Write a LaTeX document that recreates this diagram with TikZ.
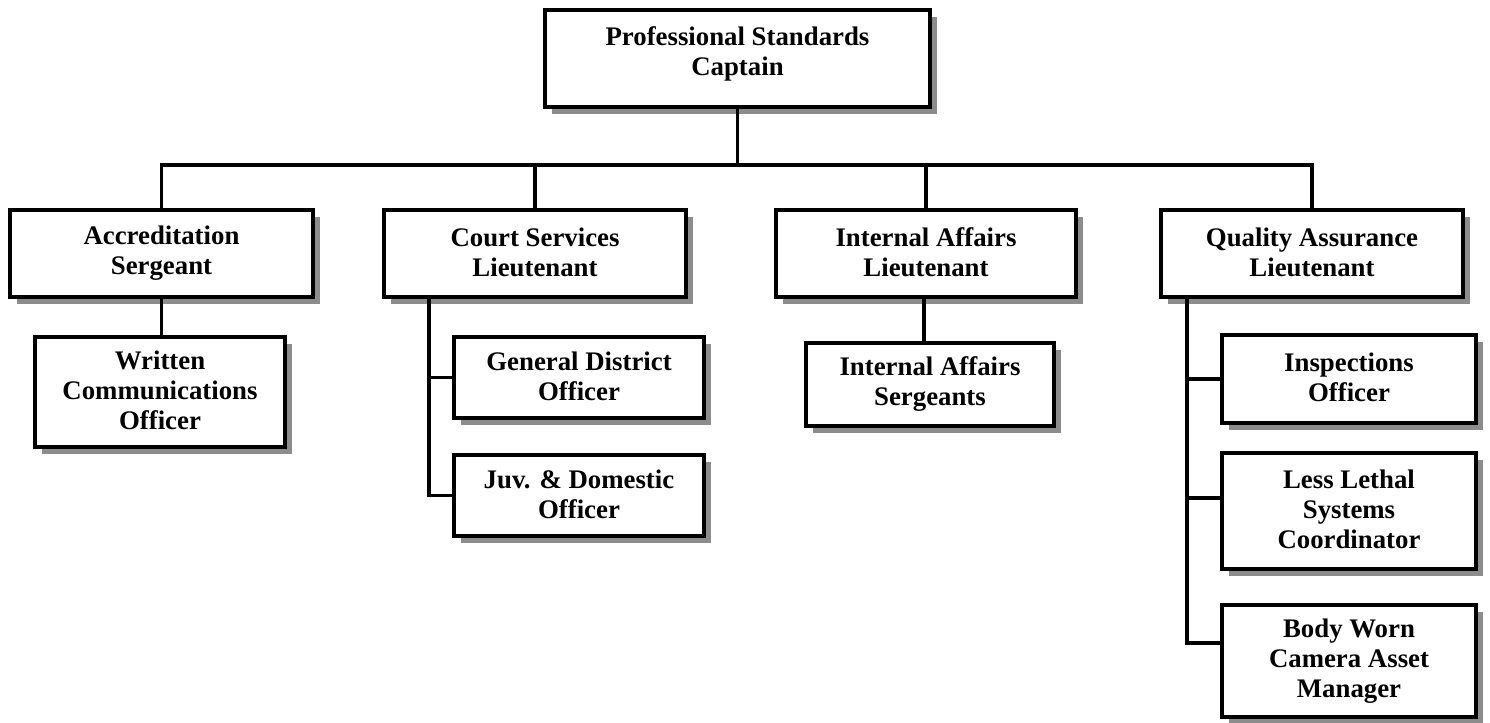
\documentclass[tikz,border=0pt]{standalone}
\usepackage{fontspec}
\setmainfont{Liberation Serif}
\usetikzlibrary{shadows}
\newcommand{\tophgt}{\rule{0pt}{10.8pt}}
\newcommand{\botdpt}{\rule[-1.6pt]{0pt}{1.6pt}}
\newcommand{\botdptbig}{\rule[-7.5pt]{0pt}{7.5pt}}
\begin{document}
\begin{tikzpicture}[x=0.5pt,y=-0.5pt,
  box/.style={draw=black, line width=2pt, fill=white, align=center, inner sep=2pt,
    font=\fontsize{13.4}{15}\selectfont\bfseries,
    execute at begin node=\tophgt, execute at end node=\botdpt,
    general shadow={fill=black!45, shadow xshift=3.5pt, shadow yshift=-3.5pt}},
  headbox/.style={box, execute at end node=\botdptbig},
  conn/.style={draw=black, line width=1.6pt}]
\useasboundingbox (0,0) rectangle (1490,723);
\node[headbox, minimum width=192.5pt, minimum height=48.5pt] (top) at (737.5,58.5) {Professional Standards\\Captain};
\node[box, minimum width=151.5pt, minimum height=43.5pt] (acc) at (161.5,253.5) {Accreditation\\Sergeant};
\node[box, minimum width=151pt, minimum height=43.5pt] (court) at (535,253.5) {Court Services\\Lieutenant};
\node[box, minimum width=150pt, minimum height=43.5pt] (ia) at (926,253.5) {Internal Affairs\\Lieutenant};
\node[box, minimum width=151pt, minimum height=43.5pt] (qa) at (1312,253.5) {Quality Assurance\\Lieutenant};
\node[box, minimum width=125pt, minimum height=55pt] (wc) at (160,392) {Written\\Communications\\Officer};
\node[box, minimum width=125pt, minimum height=40.5pt] (gd) at (579,377.5) {General District\\Officer};
\node[box, minimum width=125pt, minimum height=40.5pt] (juv) at (579,495.5) {Juv. \& Domestic\\Officer};
\node[box, minimum width=124pt, minimum height=41.5pt] (ias) at (930,384.5) {Internal Affairs\\Sergeants};
\node[box, minimum width=127pt, minimum height=44pt] (insp) at (1349,379) {Inspections\\Officer};
\node[box, minimum width=127pt, minimum height=58pt] (ll) at (1349,511) {Less Lethal\\Systems\\Coordinator};
\node[box, minimum width=127pt, minimum height=56pt] (bw) at (1349,661) {Body Worn\\Camera Asset\\Manager};
\coordinate (bus) at (0,165);
\coordinate (csp) at (429,0);
\coordinate (qsp) at (1187,0);
% top level
\draw[conn] (top.south) -- (top.south |- bus);
\draw[conn] (acc.north) -- (acc.north |- bus) -- (qa.north |- bus) -- (qa.north);
\draw[conn] (court.north) -- (court.north |- bus);
\draw[conn] (ia.north) -- (ia.north |- bus);
% second level
\draw[conn] (acc.south) -- (acc.south |- wc.north);
\draw[conn] (court.south -| csp) |- (gd.west);
\draw[conn] (court.south -| csp) |- (juv.west);
\draw[conn] (ia.south -| 924,0) -- (ias.north -| 924,0);
\draw[conn] (qa.south -| qsp) |- (insp.west);
\draw[conn] (qa.south -| qsp) |- ([yshift=6.5pt]ll.west);
\draw[conn] (qa.south -| qsp) |- ([yshift=9pt]bw.west);
\end{tikzpicture}
\end{document}
